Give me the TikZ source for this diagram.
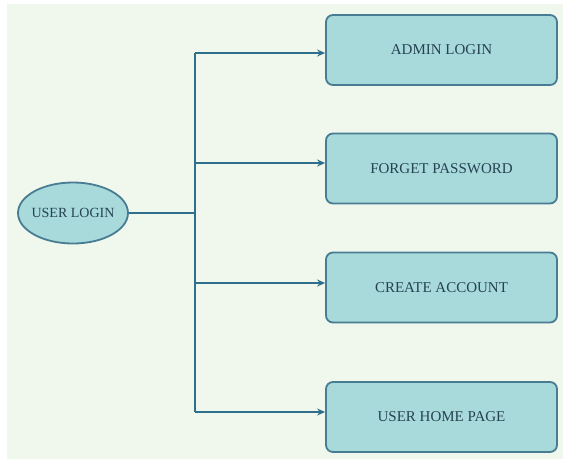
\documentclass[tikz,border=0pt]{standalone}
\usepackage{fontspec}
\setmainfont{Liberation Serif}
\usetikzlibrary{shapes.geometric,arrows.meta}
\definecolor{bgcol}{RGB}{240,248,238}
\definecolor{boxcol}{RGB}{168,218,220}
\definecolor{bordercol}{RGB}{72,124,146}
\definecolor{linecol}{RGB}{46,112,140}
\definecolor{textcol}{RGB}{38,66,82}
\tikzset{every picture/.style={x=1pt,y=-1pt}}
\tikzset{usecase/.style={ellipse,draw=bordercol,fill=boxcol,line width=1.8pt,minimum width=110pt,minimum height=61pt,inner xsep=-8pt,inner ysep=0pt,text=textcol,font=\fontsize{14}{16}\selectfont}}
\tikzset{page/.style={rectangle,rounded corners=7pt,draw=bordercol,fill=boxcol,line width=1.8pt,minimum width=231pt,minimum height=70pt,text=textcol,font=\fontsize{15}{17}\selectfont}}
\tikzset{link/.style={draw=linecol,line width=1.2pt}}
\tikzset{edge/.style={link,-{Stealth[length=8pt,width=7pt]}}}

\begin{document}
\begin{tikzpicture}
\useasboundingbox (0,0) rectangle (563,459);
\fill [bgcol] (7,4) rectangle (563,459);

\node [usecase] (user) at (73,213) {USER LOGIN};

\node [page] (admin) at (441.5,50) {ADMIN LOGIN};
\node [page] (forget) at (441.5,168.5) {FORGET PASSWORD};
\node [page] (create) at (441.5,287.5) {CREATE ACCOUNT};
\node [page] (home) at (441.5,417) {USER HOME PAGE};

\coordinate (j1) at (195,53);
\coordinate (j2) at (195,163);
\coordinate (j3) at (195,283);
\coordinate (j4) at (195,412);
\coordinate (jm) at (195,213);

\draw [link] (user) -- (jm);
\draw [link] (j1) -- (j4);

\draw [edge] (j1) -- (j1 -| admin.west);
\draw [edge] (j2) -- (j2 -| forget.west);
\draw [edge] (j3) -- (j3 -| create.west);
\draw [edge] (j4) -- (j4 -| home.west);
\end{tikzpicture}
\end{document}
